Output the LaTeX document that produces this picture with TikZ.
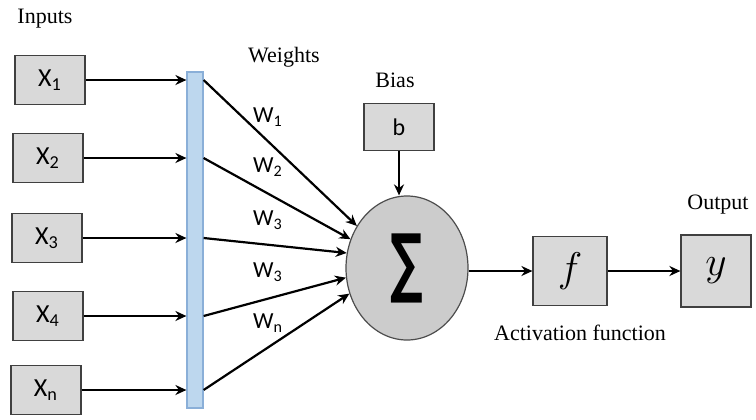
\documentclass[tikz,border=0pt]{standalone}
\usepackage{fontspec}
\newfontfamily\carlito{Carlito}
\newfontfamily\dejavu{DejaVu Sans}
\newfontfamily\timesfont{Liberation Serif}
\usetikzlibrary{shapes.geometric,arrows.meta}

\definecolor{barblue}{HTML}{BDD7EE}
\definecolor{barline}{HTML}{8AAFD8}
\definecolor{boxgray}{HTML}{D9D9D9}

\tikzset{
  inbox/.style={draw=black!75, fill=boxgray, line width=0.6pt, minimum width=35pt,
    minimum height=24.5pt, inner sep=0pt, font=\carlito\fontsize{13}{13}\selectfont},
  wlabel/.style={font=\carlito\fontsize{11.5}{12}\selectfont},
  title/.style={font=\timesfont\fontsize{11}{12}\selectfont},
}

\begin{document}
\begin{tikzpicture}[x=0.5pt, y=-0.5pt, >={Stealth[length=5.5pt,width=5pt]}, line width=1.1pt]
    \useasboundingbox (0,0) rectangle (756,419);

    \node[title] (inputs) at (45,19) {Inputs};
    \node[inbox] (x1) at (50,80) {X\textsubscript{1}};
    \node[inbox] (x2) at (48,158) {X\textsubscript{2}};
    \node[inbox] (x3) at (47,238) {X\textsubscript{3}};
    \node[inbox] (x4) at (48,316) {X\textsubscript{4}};
    \node[inbox] (xn) at (46,390) {X\textsubscript{n}};

    \node[draw=barline, fill=barblue, line width=0.6pt, minimum width=8pt,
      minimum height=168pt, inner sep=0pt] (bar) at (195,240) {};

    \draw[->] (x1) -- (x1 -| bar.west);
    \draw[->] (x2) -- (x2 -| bar.west);
    \draw[->] (x3) -- (x3 -| bar.west);
    \draw[->] (x4) -- (x4 -| bar.west);
    \draw[->] (xn) -- (xn -| bar.west);

    \node[title] (weights) at (284,57) {Weights};

    \node[ellipse, draw=black!70, fill=black!20, line width=0.6pt, minimum width=61pt,
      minimum height=72pt, inner sep=0pt] (sum) at (407,268)
      {\scalebox{0.6}[1]{\dejavu\bfseries\fontsize{38}{38}\selectfont ∑}};

    \draw[->] (x1 -| bar.east) -- (sum.140);
    \draw[->] (x2 -| bar.east) -- (sum.153);
    \draw[->] (x3 -| bar.east) -- (sum.166);
    \draw[->] (x4 -| bar.east) -- (sum.189);
    \draw[->] (xn -| bar.east) -- (sum.204);

    \node[wlabel] (w1) at (268,117) {W\textsubscript{1}};
    \node[wlabel] (w2) at (268,167) {W\textsubscript{2}};
    \node[wlabel] (w3) at (268,220) {W\textsubscript{3}};
    \node[wlabel] (w4) at (268,272) {W\textsubscript{3}};
    \node[wlabel] (wn) at (268,323) {W\textsubscript{n}};

    \node[title] (bias) at (395,80) {Bias};
    \node[inbox, font=\carlito\fontsize{12}{12}\selectfont, minimum height=23.5pt] (b) at (399,127) {b};
    \draw[->] (b) -- (b |- sum.north);

    \node[inbox, minimum width=37pt, minimum height=34.5pt, font=\fontsize{20}{20}\selectfont] (f) at (570,271) {$f$};
    \node[inbox, minimum height=36pt, font=\fontsize{20}{20}\selectfont] (out) at (716,271) {$y$};
    \draw[->] (sum.east |- f) -- (f);
    \draw[->] (f) -- (out);

    \node[title] (act) at (580,333) {Activation function};
    \node[title] (output) at (718,205) {Output};
\end{tikzpicture}
\end{document}
